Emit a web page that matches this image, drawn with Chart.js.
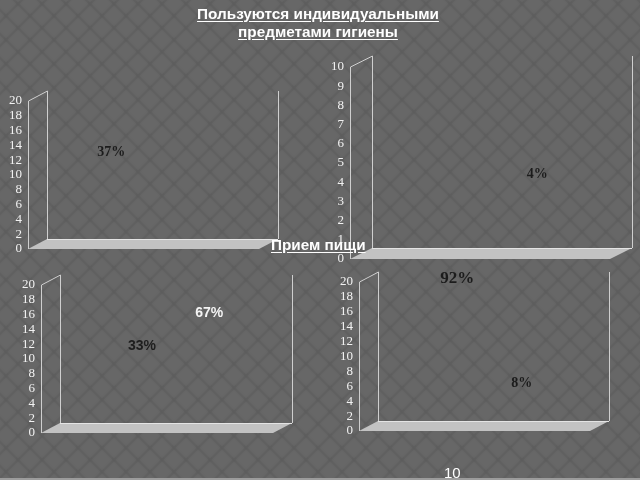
<!DOCTYPE html>
<html>
<head>
<meta charset="utf-8">
<script src="https://cdn.jsdelivr.net/npm/chart.js@4/dist/chart.umd.min.js"></script>
<style>
  html, body {
    margin: 0;
    padding: 0;
  }
  #slide {
    position: relative;
    width: 640px;
    height: 480px;
    overflow: hidden;
    background-color: #5a5a5a;
  }
  #slide canvas {
    position: absolute;
    left: 0;
    top: 0;
  }
  .title {
    position: absolute;
    color: #ffffff;
    font-family: "Liberation Sans", Arial, sans-serif;
    font-weight: bold;
    font-size: 15.3px;
    line-height: 18px;
    text-decoration: underline;
    text-underline-offset: 2px;
    white-space: nowrap;
    z-index: 5;
  }
  #title-top {
    left: 0;
    width: 636px;
    top: 5px;
    text-align: center;
  }
  #title-bottom {
    left: 271px;
    top: 236px;
  }
  #slide-number {
    position: absolute;
    left: 444px;
    top: 464px;
    color: #ffffff;
    font-family: "Liberation Sans", Arial, sans-serif;
    font-size: 15px;
    z-index: 5;
  }
  #bottom-line {
    position: absolute;
    left: 0;
    top: 478px;
    width: 640px;
    height: 2px;
    background: #9c9c9c;
  }
</style>
</head>
<body>
<div id="slide">
  <canvas id="backdrop" width="640" height="480"></canvas>
  <canvas id="chart-top-left" width="640" height="480"></canvas>
  <canvas id="chart-top-right" width="640" height="480"></canvas>
  <canvas id="chart-bottom-left" width="640" height="480"></canvas>
  <canvas id="chart-bottom-right" width="640" height="480"></canvas>
  <div class="title" id="title-top">Пользуются индивидуальными<br>предметами гигиены</div>
  <div class="title" id="title-bottom">Прием пищи</div>
  <div id="slide-number">10</div>
  <div id="bottom-line"></div>
</div>
<script>
// Value axis ticks
const ticksTwenty = [0, 2, 4, 6, 8, 10, 12, 14, 16, 18, 20];
const ticksTen = [0, 1, 2, 3, 4, 5, 6, 7, 8, 9, 10];

// Data labels of each chart: text, position along the floor (0..10) and value
const topLeftLabels = ['37%'];
const topLeftX = [3.6];
const topLeftValues = [13.0];

const topRightLabels = ['4%'];
const topRightX = [7.2];
const topRightValues = [4.4];

const bottomLeftLabels = ['33%', '67%'];
const bottomLeftX = [4.35, 7.25];
const bottomLeftValues = [11.8, 16.2];

const bottomRightLabels = ['92%', '8%'];
const bottomRightX = [4.25, 7.05];
const bottomRightValues = [20.5, 6.4];

// Function to paint the diamond pattern of the slide
function paintBackdrop() {
  const ctx = document.getElementById('backdrop').getContext('2d');
  const s = 24;
  ctx.fillStyle = '#4e4e4e';
  ctx.fillRect(0, 0, 640, 480);
  ctx.filter = 'blur(1.2px)';
  ctx.fillStyle = '#676767';
  for (let row = -2; row * s / 2 < 520; row++) {
    for (let col = -2; col * s < 680; col++) {
      const cx = col * s + (Math.abs(row) % 2 ? s / 2 : 0) + 6;
      const cy = row * s / 2 + 4;
      ctx.beginPath();
      ctx.moveTo(cx, cy - s / 2);
      ctx.lineTo(cx + s / 2, cy);
      ctx.lineTo(cx, cy + s / 2);
      ctx.lineTo(cx - s / 2, cy);
      ctx.closePath();
      ctx.fill();
    }
  }
  ctx.filter = 'none';
}

// Function to draw the 3D walls and floor behind the labels
const frame3d = {
  id: 'frame3d',
  beforeDatasetsDraw(chart, args, opts) {
    const { ctx, chartArea } = chart;
    const { left, right, top, bottom } = chartArea;
    const dx = opts.dx;
    const dy = opts.dy;
    ctx.save();
    // floor
    ctx.fillStyle = '#c2c2c2';
    ctx.beginPath();
    ctx.moveTo(left, bottom);
    ctx.lineTo(left + dx, bottom + dy);
    ctx.lineTo(right + dx, bottom + dy);
    ctx.lineTo(right, bottom);
    ctx.closePath();
    ctx.fill();
    ctx.strokeStyle = '#e4e4e4';
    ctx.lineWidth = 1;
    ctx.beginPath();
    ctx.moveTo(left + dx, bottom + dy + 0.5);
    ctx.lineTo(right + dx, bottom + dy + 0.5);
    ctx.stroke();
    // side wall and back edge
    ctx.strokeStyle = '#cfcfcf';
    ctx.beginPath();
    ctx.moveTo(left + 0.5, bottom);
    ctx.lineTo(left + 0.5, top);
    ctx.lineTo(left + dx + 0.5, top + dy);
    ctx.lineTo(left + dx + 0.5, bottom + dy);
    ctx.moveTo(right + dx + 0.5, top + dy);
    ctx.lineTo(right + dx + 0.5, bottom + dy);
    ctx.stroke();
    ctx.restore();
  }
};

// Function to write the percentage labels at their points
const pointLabels = {
  id: 'pointLabels',
  afterDatasetsDraw(chart, args, opts) {
    const { ctx } = chart;
    const xScale = chart.scales.x;
    const yScale = chart.scales.y;
    ctx.save();
    ctx.textAlign = 'center';
    ctx.textBaseline = 'middle';
    chart.data.datasets[0].data.forEach((pt, i) => {
      const style = opts.styles[i];
      ctx.font = style.font;
      ctx.fillStyle = style.color;
      ctx.fillText(opts.texts[i], xScale.getPixelForValue(pt.x), yScale.getPixelForValue(pt.y));
    });
    ctx.restore();
  }
};

// Function to build one chart frame
function makeChart(id, box, tickValues, max, xs, values, texts, styles) {
  const ctx = document.getElementById(id).getContext('2d');
  return new Chart(ctx, {
    type: 'scatter',
    data: {
      datasets: [{
        data: xs.map((x, i) => ({ x: x, y: values[i] })),
        pointRadius: 0,
        clip: false
      }]
    },
    options: {
      responsive: false,
      animation: false,
      events: [],
      layout: {
        padding: {
          left: box.left - 40,
          right: 640 - box.right,
          top: box.top,
          bottom: 480 - box.bottom
        }
      },
      scales: {
        x: { type: 'linear', display: false, min: 0, max: 10 },
        y: {
          min: 0,
          max: max,
          afterFit(scale) { scale.width = 40; },
          afterBuildTicks(scale) { scale.ticks = tickValues.map(v => ({ value: v })); },
          grid: { display: false, drawTicks: false },
          border: { display: false },
          ticks: {
            autoSkip: false,
            padding: 6,
            color: '#f2f2f2',
            font: { family: 'Liberation Serif', size: 13 }
          }
        }
      },
      plugins: {
        legend: { display: false },
        tooltip: { enabled: false },
        frame3d: { dx: box.dx, dy: box.dy },
        pointLabels: { texts: texts, styles: styles }
      }
    },
    plugins: [frame3d, pointLabels]
  });
}

const serifDark = { font: 'bold 14px "Liberation Serif"', color: '#1c1c1c' };

document.addEventListener('DOMContentLoaded', () => {
  paintBackdrop();
  makeChart('chart-top-left', { left: 28, right: 259, top: 101, bottom: 249, dx: 19, dy: -10 },
    ticksTwenty, 20, topLeftX, topLeftValues, topLeftLabels, [serifDark]);
  makeChart('chart-top-right', { left: 350, right: 610, top: 67, bottom: 259, dx: 22, dy: -11 },
    ticksTen, 10, topRightX, topRightValues, topRightLabels, [serifDark]);
  makeChart('chart-bottom-left', { left: 41, right: 273, top: 285, bottom: 433, dx: 19, dy: -10 },
    ticksTwenty, 20, bottomLeftX, bottomLeftValues, bottomLeftLabels, [
      { font: 'bold 14px "Liberation Sans"', color: '#1e1e1e' },
      { font: 'bold 14px "Liberation Sans"', color: '#f4f4f4' }
    ]);
  makeChart('chart-bottom-right', { left: 359, right: 590, top: 282, bottom: 431, dx: 19, dy: -10 },
    ticksTwenty, 20, bottomRightX, bottomRightValues, bottomRightLabels, [
      { font: 'bold 17px "Liberation Serif"', color: '#1c1c1c' },
      serifDark
    ]);
});
</script>
</body>
</html>
